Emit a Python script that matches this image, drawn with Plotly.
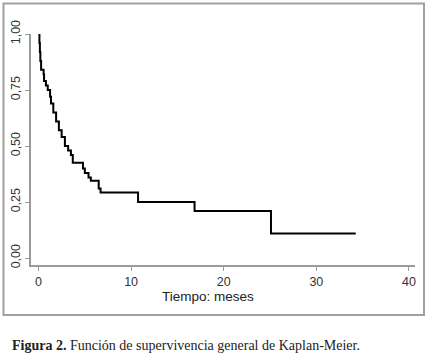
import plotly.graph_objects as go

# Kaplan-Meier step data (time in months, survival probability)
time_months = [0, 0.1, 0.15, 0.2, 0.28, 0.55, 0.6, 0.8, 1.0, 1.25, 1.35, 1.6, 1.9, 2.2,
               2.5, 2.85, 3.2, 3.5, 3.7, 4.8, 5.0, 5.4, 5.65, 6.5, 6.7, 10.75, 16.85,
               25.1, 34.25]
survival = [1.00, 0.96, 0.92, 0.88, 0.84, 0.82, 0.79, 0.77, 0.75, 0.72, 0.69, 0.65, 0.61,
            0.57, 0.54, 0.50, 0.48, 0.46, 0.425, 0.40, 0.38, 0.36, 0.345, 0.31, 0.293,
            0.25, 0.21, 0.11, 0.11]

x_tickvals = [0, 10, 20, 30, 40]
x_ticktext = ["0", "10", "20", "30", "40"]
y_tickvals = [0, 0.25, 0.5, 0.75, 1.0]
y_ticktext = ["0,00", "0,25", "0,50", "0,75", "1,00"]

x_title = "Tiempo: meses"
caption = "<b>Figura 2.</b> Función de supervivencia general de Kaplan-Meier."

W, H = 430, 358
ML, MR, MT, MB = 31, 15, 34, 93
PW, PH = W - ML - MR, H - MT - MB


def px_x(p):
    return (p - ML) / PW


def px_y(p):
    return (H - MB - p) / PH


fig = go.Figure()
fig.add_trace(go.Scatter(
    x=time_months, y=survival, mode="lines", line_shape="hv",
    line=dict(color="black", width=2), cliponaxis=False, showlegend=False,
    hoverinfo="skip",
))

axis_grey = "#9a9a9a"
fig.update_layout(
    width=W, height=H,
    margin=dict(l=ML, r=MR, t=MT, b=MB, autoexpand=False),
    paper_bgcolor="white", plot_bgcolor="white",
    font=dict(family="Arial, Liberation Sans, sans-serif", size=12, color="#333333"),
    xaxis=dict(range=[-0.81, 40.65], tickvals=x_tickvals, ticktext=x_ticktext,
               automargin=False,
               showgrid=False, zeroline=False, showline=True, linecolor=axis_grey,
               linewidth=1.5, ticks="outside", ticklen=4, tickcolor=axis_grey,
               tickwidth=1, tickfont=dict(size=12.5, color="#333333")),
    yaxis=dict(range=[-0.031, 1.0], tickvals=y_tickvals, ticktext=y_ticktext,
               automargin=False,
               showgrid=False, zeroline=False, showline=True, linecolor=axis_grey,
               linewidth=1.5, ticks="outside", ticklen=4, tickcolor=axis_grey,
               tickwidth=1, tickangle=-90, tickfont=dict(size=12.5, color="#333333")),
    shapes=[dict(type="rect", xref="paper", yref="paper",
                 x0=px_x(3.5), x1=px_x(424), y0=px_y(315), y1=px_y(3.5),
                 line=dict(color="#a0a0a0", width=2), layer="below")],
    annotations=[
        dict(text=x_title, xref="paper", yref="paper", x=px_x(208), y=px_y(296),
             xanchor="center", yanchor="middle", showarrow=False,
             font=dict(size=13.5, color="#222222")),
        dict(text=caption, xref="paper", yref="paper", x=px_x(10), y=px_y(345),
             xanchor="left", yanchor="middle", showarrow=False,
             font=dict(family="Liberation Serif, DejaVu Serif, serif", size=14,
                       color="#222222")),
    ],
)

fig.write_html("out.html", config={"displayModeBar": False},
               post_script="document.body.style.margin='0';document.body.style.padding='0';")
